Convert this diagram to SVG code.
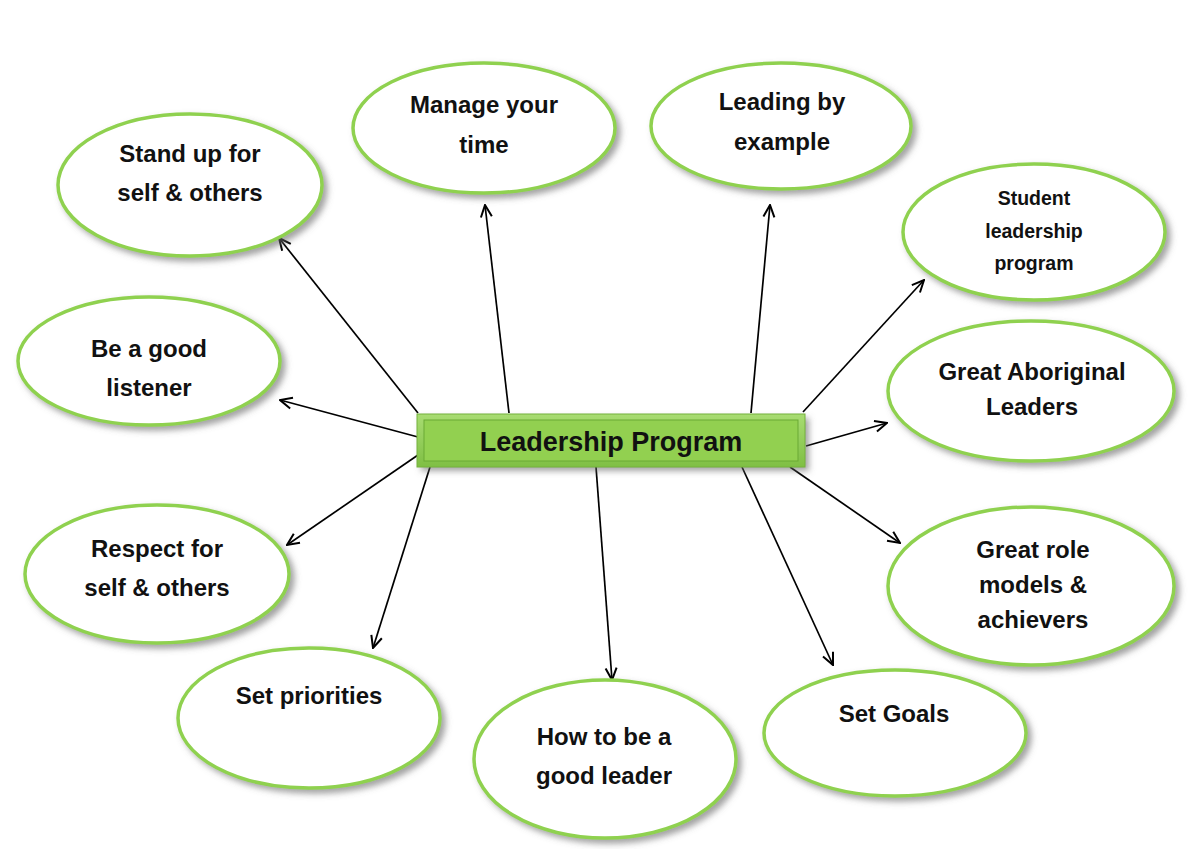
<svg xmlns="http://www.w3.org/2000/svg" width="1200" height="849" viewBox="0 0 1200 849">
<defs>
<filter id="sh" x="-10%" y="-10%" width="125%" height="130%">
<feDropShadow dx="4" dy="4" stdDeviation="3" flood-color="#666" flood-opacity="0.6"/>
</filter>
<marker id="ah" viewBox="0 0 14 14" refX="13" refY="7" markerWidth="14" markerHeight="14" markerUnits="userSpaceOnUse" orient="auto">
<path d="M1,1.5 L13,7 L1,12.5" fill="none" stroke="#000" stroke-width="2"/>
</marker>
<linearGradient id="bev" x1="0" y1="0" x2="0" y2="1">
<stop offset="0" stop-color="#a8dc72"/>
<stop offset="1" stop-color="#7fbf44"/>
</linearGradient>
</defs>
<style>
.n ellipse{fill:#fff;stroke:#8fd14f;stroke-width:3.5;filter:url(#sh)}
text{font-family:"Liberation Sans",Arial,sans-serif;font-weight:bold;fill:#111;text-anchor:middle;font-size:24px}
.s{font-size:19.5px}
.c line{stroke:#000;stroke-width:1.7;marker-end:url(#ah)}
</style>
<rect width="1200" height="849" fill="#fff"/>
<g class="c" id="connectors">
<line x1="418" y1="413" x2="279" y2="238"/>
<line x1="509" y1="413" x2="485" y2="205"/>
<line x1="751" y1="413" x2="770" y2="205"/>
<line x1="803" y1="412" x2="924" y2="280"/>
<line x1="418" y1="437" x2="280" y2="400"/>
<line x1="806" y1="446" x2="887" y2="423"/>
<line x1="418" y1="455" x2="287" y2="545"/>
<line x1="790" y1="467" x2="900" y2="543"/>
<line x1="430" y1="467" x2="373" y2="648"/>
<line x1="596" y1="467" x2="612" y2="680"/>
<line x1="742" y1="467" x2="833" y2="665"/>
</g>
<g id="center">
<rect x="417" y="414" width="388" height="53" fill="#7fbf44" filter="url(#sh)"/>
<rect x="417" y="414" width="388" height="53" fill="url(#bev)" stroke="#74b23c" stroke-width="1"/>
<rect x="424" y="420" width="374" height="41" fill="#92d050" stroke="#6aa934" stroke-width="1"/>
<text x="611" y="451" style="font-size:27px">Leadership Program</text>
</g>
<g class="n" id="n1"><ellipse cx="190" cy="185" rx="132" ry="71"/><text x="190" y="162">Stand up for</text><text x="190" y="201">self &amp; others</text></g>
<g class="n" id="n2"><ellipse cx="484" cy="128" rx="131" ry="65"/><text x="484" y="113">Manage your</text><text x="484" y="153">time</text></g>
<g class="n" id="n3"><ellipse cx="781" cy="126" rx="130" ry="63"/><text x="782" y="110">Leading by</text><text x="782" y="150">example</text></g>
<g class="n" id="n4"><ellipse cx="1034" cy="232" rx="131" ry="68"/><text class="s" x="1034" y="205">Student</text><text class="s" x="1034" y="238">leadership</text><text class="s" x="1034" y="270">program</text></g>
<g class="n" id="n5"><ellipse cx="149" cy="361" rx="131" ry="64"/><text x="149" y="357">Be a good</text><text x="149" y="396">listener</text></g>
<g class="n" id="n6"><ellipse cx="1031" cy="391" rx="143" ry="70"/><text x="1032" y="380">Great Aboriginal</text><text x="1032" y="415">Leaders</text></g>
<g class="n" id="n7"><ellipse cx="157" cy="574" rx="132" ry="69"/><text x="157" y="557">Respect for</text><text x="157" y="596">self &amp; others</text></g>
<g class="n" id="n8"><ellipse cx="1031" cy="586" rx="143" ry="79"/><text x="1033" y="558">Great role</text><text x="1033" y="593">models &amp;</text><text x="1033" y="628">achievers</text></g>
<g class="n" id="n9"><ellipse cx="309" cy="718" rx="131" ry="70"/><text x="309" y="704">Set priorities</text></g>
<g class="n" id="n10"><ellipse cx="605" cy="759" rx="131" ry="79"/><text x="604" y="745">How to be a</text><text x="604" y="784">good leader</text></g>
<g class="n" id="n11"><ellipse cx="895" cy="733" rx="131" ry="63"/><text x="894" y="722">Set Goals</text></g>
</svg>
